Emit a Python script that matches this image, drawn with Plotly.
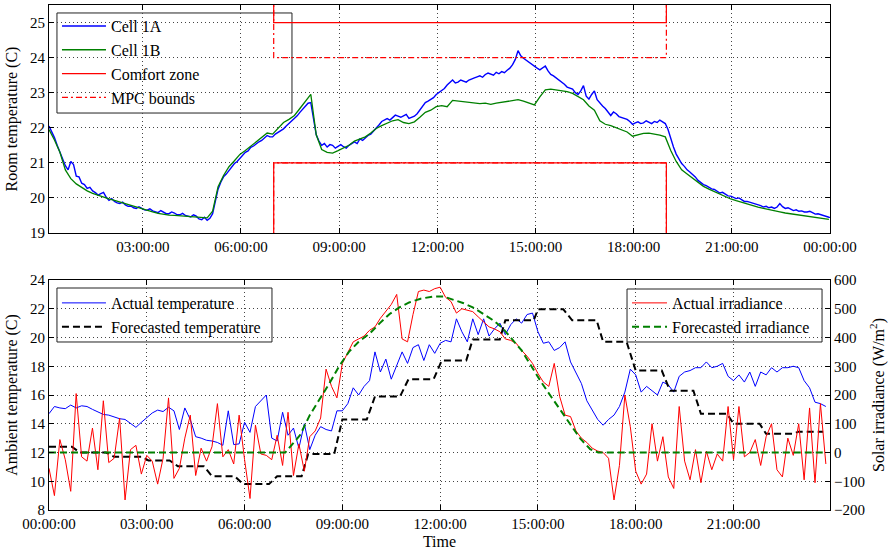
import pandas as pd
import plotly.graph_objects as go

# ---------------- data ----------------
# Top panel: Cell 1A, 5-minute samples starting 00:08
cell_1a = [
    22.05, 21.9, 21.72, 21.5, 21.3, 21.1, 20.92, 20.8, 21.04, 20.95, 20.62, 20.6,
    20.42, 20.38, 20.27, 20.3, 20.2, 20.15, 20.08, 20.12, 20.16, 20.02, 19.93, 19.98,
    19.9, 19.86, 19.84, 19.88, 19.8, 19.76, 19.77, 19.72, 19.7, 19.75, 19.71, 19.66,
    19.65, 19.69, 19.63, 19.6, 19.58, 19.64, 19.6, 19.55, 19.55, 19.6, 19.57, 19.52,
    19.52, 19.56, 19.5, 19.47, 19.46, 19.52, 19.48, 19.4, 19.38, 19.45, 19.36, 19.42,
    19.55, 19.9, 20.25, 20.45, 20.6, 20.68, 20.78, 20.85, 20.98, 21.04, 21.12, 21.2,
    21.3, 21.34, 21.44, 21.48, 21.55, 21.6, 21.64, 21.7, 21.78, 21.74, 21.74, 21.82,
    21.87, 21.92, 21.97, 22.05, 22.12, 22.18, 22.26, 22.34, 22.44, 22.52, 22.62, 22.7,
    22.72, 22.3, 21.8, 21.62, 21.5, 21.55, 21.45, 21.52, 21.5, 21.42, 21.48, 21.52,
    21.46, 21.42, 21.5, 21.56, 21.6, 21.55, 21.68, 21.64, 21.72, 21.78, 21.82, 21.9,
    21.98, 22.08, 22.18, 22.22, 22.26, 22.22, 22.3, 22.36, 22.33, 22.3, 22.34, 22.38,
    22.27, 22.3, 22.33, 22.4, 22.5, 22.6, 22.72, 22.76, 22.8, 22.86, 22.95, 23.0,
    23.05, 23.12, 23.22, 23.3, 23.36, 23.28, 23.3, 23.36, 23.33, 23.3, 23.36, 23.4,
    23.42, 23.45, 23.48, 23.44, 23.52, 23.56, 23.53, 23.5, 23.58, 23.54, 23.6, 23.57,
    23.64, 23.7, 23.8, 23.95, 24.2, 24.05, 23.98, 23.92, 23.86, 23.8, 23.75, 23.7,
    23.65, 23.7, 23.76, 23.62, 23.52, 23.48, 23.42, 23.38, 23.32, 23.24, 23.16, 23.14,
    23.1, 23.0, 22.95, 23.05, 23.2, 22.9, 22.82, 22.95, 23.05, 22.8, 22.7, 22.62,
    22.55, 22.45, 22.35, 22.45, 22.4, 22.32, 22.3, 22.28, 22.24, 22.18, 22.1, 22.14,
    22.17, 22.12, 22.14, 22.2, 22.16, 22.12, 22.18, 22.15, 22.22, 22.18, 22.12, 21.95,
    21.66, 21.45, 21.25, 21.1, 20.98, 20.9, 20.8, 20.74, 20.68, 20.6, 20.5, 20.44,
    20.38, 20.35, 20.3, 20.26, 20.24, 20.18, 20.14, 20.16, 20.1, 20.06, 20.05, 20.02,
    19.98, 20.0, 19.94, 19.9, 19.9, 19.88, 19.86, 19.82, 19.8, 19.78, 19.74, 19.76,
    19.72, 19.74, 19.7, 19.74, 19.84, 19.75, 19.7, 19.72, 19.68, 19.64, 19.66, 19.62,
    19.63, 19.6, 19.6, 19.62, 19.58, 19.54, 19.55, 19.52, 19.5, 19.47, 19.45, 19.44,
]
# Top panel: Cell 1B, 10-minute samples starting 00:08
cell_1b = [
    21.95, 21.65, 21.3, 20.8, 20.55, 20.4,
    20.3, 20.2, 20.13, 20.07, 20.02, 19.97,
    19.93, 19.88, 19.83, 19.78, 19.73, 19.68,
    19.64, 19.6, 19.56, 19.53, 19.51, 19.5,
    19.49, 19.48, 19.46, 19.44, 19.43, 19.43,
    19.62, 20.32, 20.64, 20.89, 21.06, 21.24,
    21.35, 21.47, 21.6, 21.72, 21.85, 21.82,
    21.98, 22.15, 22.24, 22.35, 22.55, 22.75,
    22.95, 21.8, 21.38, 21.3, 21.28, 21.35,
    21.42, 21.5, 21.62, 21.68, 21.74, 21.85,
    21.98, 22.06, 22.13, 22.2, 22.23, 22.15,
    22.12, 22.17, 22.3, 22.44, 22.5, 22.6,
    22.63, 22.6, 22.78, 22.76, 22.73, 22.71,
    22.7, 22.69, 22.7, 22.67, 22.7, 22.72,
    22.74, 22.77, 22.8, 22.76, 22.7, 22.65,
    22.88, 23.08, 23.1, 23.08, 23.07, 23.03,
    22.98, 22.9, 22.8, 22.62, 22.5, 22.2,
    22.1, 22.06, 22.0, 21.92, 21.88, 21.76,
    21.8, 21.84, 21.85, 21.83, 21.79, 21.74,
    21.35, 21.04, 20.8, 20.68, 20.56, 20.44,
    20.33, 20.25, 20.18, 20.1, 20.03, 19.97,
    19.92, 19.87, 19.83, 19.79, 19.74, 19.7,
    19.66, 19.63, 19.6, 19.57, 19.55, 19.53,
    19.51, 19.49, 19.46, 19.44, 19.42, 19.39,
]
# Comfort zone / MPC bounds (hours of day, degC)
bound_hours = [0, 7, 7, 19, 19, 24]
comfort_upper = [30, 30, 25, 25, 30, 30]
comfort_lower = [15, 15, 21, 21, 15, 15]
mpc_upper = [30, 30, 24, 24, 30, 30]
mpc_lower = [15, 15, 21, 21, 15, 15]

# Bottom panel: 10-minute samples starting 00:00
actual_temp = [
    14.7, 15.2, 15.1, 15.05, 15.3, 15.1,
    15.25, 15.2, 15.0, 14.8, 14.65, 14.6,
    14.45, 14.35, 14.3, 14.0, 13.75, 14.1,
    14.4, 14.75, 14.95, 14.85, 15.15, 14.9,
    13.6, 15.1, 14.3, 13.1, 13.0, 12.85,
    12.8, 12.7, 12.5, 14.9, 12.55, 12.6,
    14.1, 13.4, 15.2, 15.6, 16.0, 13.0,
    12.8, 14.8, 13.2, 13.7, 12.3, 14.0,
    12.2, 13.2, 13.8, 13.6, 13.5, 14.9,
    14.9, 15.4, 16.5, 16.0, 16.6, 17.0,
    19.0, 17.6, 18.5, 17.1, 18.0, 19.0,
    18.2, 19.3, 19.5, 18.4, 19.5, 18.9,
    19.6, 19.8, 19.7, 21.3, 20.4, 19.7,
    21.3, 20.2, 21.3, 20.1, 20.6, 21.0,
    20.2, 20.9, 21.3, 21.0, 21.6, 21.7,
    20.4, 19.6, 19.7, 19.1, 19.3, 19.7,
    18.3, 17.6, 16.8, 15.6, 14.9, 14.3,
    13.9, 14.3, 14.6, 15.2, 16.2, 17.8,
    17.4, 16.2, 16.6, 16.3, 16.0, 16.9,
    16.7, 16.2, 17.3, 17.6, 17.7, 17.9,
    17.9, 18.3, 17.9, 18.0, 18.2, 17.3,
    17.0, 17.4, 16.9, 17.6, 16.6, 17.6,
    17.4, 17.9, 17.6, 17.9, 17.9, 18.0,
    17.9, 17.0, 16.5, 15.5, 15.4, 15.2,
]
actual_irr = [
    -55, -150, 45, -25, -135, 205,
    -15, -30, 85, -60, 180, -35,
    -20, 120, -165, 10, 25, -75,
    -10, -30, -110, -20, 190, -90,
    -55, 50, 130, -80, 15, -30,
    20, 170, -15, 10, -40, 130,
    -25, -160, 95, -5, -10, -25,
    60, -45, 140, -80, 30, -65,
    55, 75, 120, 290, 230, 190,
    310, 350, 385, 395, 405, 425,
    437, 467, 490, 515, 550, 395,
    385, 480, 560, 565, 560, 570,
    575, 540, 525, 485, 500, 495,
    490, 472, 455, 437, 430, 420,
    395, 390, 380, 355, 335, 310,
    275, 245, 230, 310, 195, 130,
    125, 75, 50, 35, 15, 5,
    0, -20, -165, -45, 200, 90,
    -65, -110, -75, 100, -30, 55,
    -85, -125, 160, -30, -95, 10,
    -105, 5, -60, -5, -30, 160,
    -25, 160, -15, 0, 45, -45,
    55, 100, -60, -85, 50, -10,
    100, -95, 155, -105, 170, -40,
]
# Forecasts: (hour of day, value) vertices
fc_temp_hours = [0, 0.7, 0.95, 1.75, 2.0, 2.85, 3.05, 3.7, 3.95, 4.75, 5.0, 5.7,
                 5.95, 6.75, 7.0, 7.75, 7.95, 8.75, 9.0, 9.75, 10.0, 10.77, 11.03,
                 11.8, 12.05, 12.8, 13.0, 13.83, 14.0, 14.87, 15.0, 15.78, 16.05,
                 16.8, 17.0, 17.72, 18.0, 18.8, 19.05, 19.77, 20.0, 20.8, 21.0,
                 21.8, 22.0, 22.8, 23.0, 23.75]
fc_temp = [12.4, 12.4, 12.0, 12.0, 11.7, 11.7, 11.45, 11.45, 11.05, 11.05, 10.35,
           10.35, 9.8, 9.8, 10.35, 10.35, 11.9, 11.9, 14.3, 14.3, 15.9, 15.9, 17.1,
           17.1, 18.4, 18.4, 19.87, 19.87, 21.2, 21.2, 21.96, 21.96, 21.2, 21.2,
           19.7, 19.7, 17.7, 17.7, 16.3, 16.3, 14.7, 14.7, 14.0, 14.0, 13.3, 13.3,
           13.45, 13.45]
fc_irr_hours = [0, 7.25, 7.7, 8.0, 8.3, 8.6, 8.9, 9.2, 9.5, 9.85, 10.15, 10.45,
                10.75, 11.05, 11.4, 11.8, 12.1, 12.4, 12.7, 13.0, 13.3, 13.6, 13.9,
                14.2, 14.5, 14.8, 15.1, 15.4, 15.7, 16.0, 16.3, 16.6, 16.85, 23.85]
fc_irr = [0, 0, 60, 130, 185, 240, 300, 350, 385, 415, 450, 482, 505, 522, 535,
          543, 543, 532, 520, 505, 485, 462, 435, 395, 355, 300, 245, 195, 145, 95,
          48, 12, 0, 0]

# ---------------- time axes ----------------
day = pd.Timestamp("2016-01-01")
t_1a = pd.date_range(day + pd.Timedelta(minutes=8), periods=len(cell_1a), freq="5min")
t_1b = pd.date_range(day + pd.Timedelta(minutes=8), periods=len(cell_1b), freq="10min")
t_bot = pd.date_range(day, periods=len(actual_temp), freq="10min")
to_t = lambda hrs: [day + pd.Timedelta(hours=h) for h in hrs]

FONT = "Liberation Serif, Times New Roman, DejaVu Serif, serif"
BLUE, GREEN, RED = "#0000ff", "#008000", "#ff0000"
MPC_DASH = "6px,3px,2px,3px"

fig = go.Figure()
# top panel
fig.add_trace(go.Scatter(x=t_1a, y=cell_1a, mode="lines", name="Cell 1A", legendgroup="a",
                         line=dict(color=BLUE, width=1.4), xaxis="x", yaxis="y", legend="legend"))
fig.add_trace(go.Scatter(x=t_1b, y=cell_1b, mode="lines", name="Cell 1B", legendgroup="b",
                         line=dict(color=GREEN, width=1.3), xaxis="x", yaxis="y", legend="legend"))
fig.add_trace(go.Scatter(x=to_t(bound_hours), y=comfort_upper, mode="lines", name="Comfort zone",
                         legendgroup="c", line=dict(color=RED, width=1.2),
                         xaxis="x", yaxis="y", legend="legend"))
fig.add_trace(go.Scatter(x=to_t(bound_hours), y=comfort_lower, mode="lines", showlegend=False,
                         legendgroup="c", line=dict(color=RED, width=1.2), xaxis="x", yaxis="y"))
fig.add_trace(go.Scatter(x=to_t(bound_hours), y=mpc_upper, mode="lines", name="MPC bounds",
                         legendgroup="d", line=dict(color=RED, width=1.2, dash=MPC_DASH),
                         xaxis="x", yaxis="y", legend="legend"))
fig.add_trace(go.Scatter(x=to_t(bound_hours), y=mpc_lower, mode="lines", showlegend=False,
                         legendgroup="d", line=dict(color=RED, width=1.2, dash=MPC_DASH),
                         xaxis="x", yaxis="y"))
# bottom panel, left axis
fig.add_trace(go.Scatter(x=t_bot, y=actual_temp, mode="lines", name="Actual temperature",
                         legendgroup="e", line=dict(color=BLUE, width=1),
                         xaxis="x2", yaxis="y2", legend="legend2"))
fig.add_trace(go.Scatter(x=to_t(fc_temp_hours), y=fc_temp, mode="lines", name="Forecasted temperature",
                         legendgroup="f", line=dict(color="black", width=2, dash="7px,4px"),
                         xaxis="x2", yaxis="y2", legend="legend2"))
# bottom panel, right axis
fig.add_trace(go.Scatter(x=t_bot, y=actual_irr, mode="lines", name="Actual irradiance",
                         legendgroup="g", line=dict(color=RED, width=1),
                         xaxis="x2", yaxis="y3", legend="legend3"))
fig.add_trace(go.Scatter(x=to_t(fc_irr_hours), y=fc_irr, mode="lines", name="Forecasted irradiance",
                         legendgroup="h", line=dict(color=GREEN, width=2, dash="7px,4px"),
                         xaxis="x2", yaxis="y3", legend="legend3"))

tickfont = dict(family=FONT, size=15, color="black")
titlefont = dict(family=FONT, size=16, color="black")
common_axis = dict(showline=True, linecolor="black", linewidth=1, mirror="ticks",
                   ticks="inside", ticklen=5, tickcolor="black", tickfont=tickfont,
                   showgrid=True, gridcolor="#444", griddash="1px,3px", gridwidth=1,
                   zeroline=False, automargin=False)

legend_common = dict(bgcolor="rgba(0,0,0,0)", borderwidth=0,
                     font=dict(family=FONT, size=16, color="black"),
                     xanchor="left", yanchor="top", tracegroupgap=0, itemwidth=44)

# legend frames (paper coordinates), drawn over the grid but under the traces
frame = dict(type="rect", xref="paper", yref="paper", layer="between",
             fillcolor="white", line=dict(color="#222", width=1))
shapes = [
    dict(frame, x0=0.0102, x1=0.3111, y0=0.7861, y1=0.9842),
    dict(frame, x0=0.0102, x1=0.2855, y0=0.3327, y1=0.4396),
    dict(frame, x0=0.7401, x1=0.9898, y0=0.3327, y1=0.4376),
]

fig.update_layout(
    width=888, height=552,
    margin=dict(l=49, r=58, t=5, b=42, autoexpand=False),
    paper_bgcolor="white", plot_bgcolor="white",
    font=dict(family=FONT, color="black"),
    shapes=shapes,
    xaxis=dict(common_axis, domain=[0, 1], anchor="y", type="date",
               range=[day + pd.Timedelta(minutes=8), day + pd.Timedelta(hours=24)],
               dtick=3 * 3600 * 1000, tick0=day, tickformat="%H:%M:%S"),
    yaxis=dict(common_axis, domain=[0.5485, 1], anchor="x", range=[19, 25.5], dtick=1,
               title=dict(text="Room temperature (C)", font=titlefont, standoff=8)),
    xaxis2=dict(common_axis, domain=[0, 1], anchor="y2", type="date",
                range=[day, day + pd.Timedelta(hours=23.96)],
                dtick=3 * 3600 * 1000, tick0=day, tickformat="%H:%M:%S",
                title=dict(text="Time", font=titlefont, standoff=4)),
    yaxis2=dict(common_axis, domain=[0, 0.4554], anchor="x2", range=[8, 24], dtick=2,
                mirror=False,
                title=dict(text="Ambient temperature (C)", font=titlefont, standoff=8)),
    yaxis3=dict(showline=True, linecolor="black", linewidth=1, ticks="inside", ticklen=5,
                tickcolor="black", tickfont=tickfont, showgrid=False, zeroline=False,
                automargin=False,
                overlaying="y2", side="right", anchor="x2", range=[-200, 600], dtick=100,
                title=dict(text="Solar irradiance (W/m<sup>2</sup>)", font=titlefont, standoff=8)),
    legend=dict(legend_common, x=0.0102, y=0.992),
    legend2=dict(legend_common, x=0.0102, y=0.4436),
    legend3=dict(legend_common, x=0.7401, y=0.4436, itemwidth=35),
)

fig.write_html("out.html")
